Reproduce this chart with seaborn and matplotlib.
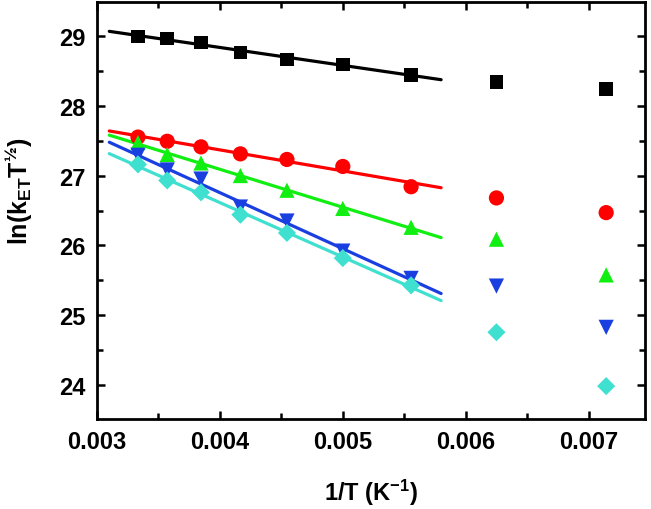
import numpy as np
import pandas as pd
import seaborn as sns
import matplotlib.pyplot as plt
from matplotlib.ticker import MultipleLocator

# ----------------------------
# Data
# ----------------------------
temps = [300, 280, 260, 240, 220, 200, 180, 160, 140]
inv_T = [1.0 / t for t in temps]

series_names = ["s1", "s2", "s3", "s4", "s5"]
y_black = [28.99, 28.96, 28.90, 28.76, 28.66, 28.59, 28.44, 28.34, 28.24]
y_red = [27.55, 27.49, 27.41, 27.31, 27.23, 27.13, 26.84, 26.68, 26.47]
y_green = [27.47, 27.30, 27.18, 27.00, 26.79, 26.53, 26.26, 26.09, 25.58]
y_blue = [27.29, 27.08, 26.95, 26.55, 26.35, 25.92, 25.53, 25.42, 24.83]
y_cyan = [27.16, 26.93, 26.76, 26.44, 26.18, 25.82, 25.43, 24.76, 23.99]

colors = ["#000000", "#ff0000", "#11ee11", "#1a3fe0", "#40e0d0"]
markers = ["s", "o", "^", "v", "D"]
marker_sizes = [95, 120, 120, 120, 85]

# linear fits use the 7 highest temperatures, drawn over this range
n_fit = 7
fit_range = [0.0031, 0.0058]

all_y = [y_black, y_red, y_green, y_blue, y_cyan]
df = pd.DataFrame({
    "invT": inv_T * len(series_names),
    "y": sum(all_y, []),
    "series": np.repeat(series_names, len(temps)),
})

# ----------------------------
# Style
# ----------------------------
sns.set_style("ticks", {"axes.edgecolor": "black", "text.color": "black",
                        "xtick.color": "black", "ytick.color": "black",
                        "axes.labelcolor": "black"})
plt.rcParams["font.family"] = ["Liberation Sans", "DejaVu Sans"]
plt.rcParams["font.weight"] = "bold"
plt.rcParams["mathtext.fontset"] = "custom"
plt.rcParams["mathtext.rm"] = "Liberation Sans:bold"
plt.rcParams["mathtext.bf"] = "Liberation Sans:bold"
plt.rcParams["mathtext.default"] = "rm"

fig = plt.figure(figsize=(6.51, 5.10), dpi=100)
ax = fig.add_axes([0.149, 0.1765, 0.842, 0.8175])

# fitted lines
for name, color in zip(series_names, colors):
    sub = df[df["series"] == name]
    k, b = np.polyfit(sub["invT"].values[:n_fit], sub["y"].values[:n_fit], 1)
    xs = np.array(fit_range)
    sns.lineplot(x=xs, y=k * xs + b, color=color, linewidth=2.3, ax=ax,
                 legend=False)

# markers
for name, color, m, s in zip(series_names, colors, markers, marker_sizes):
    sub = df[df["series"] == name]
    sns.scatterplot(data=sub, x="invT", y="y", color=color, marker=m, s=s,
                    edgecolor="none", ax=ax, legend=False, zorder=3)

ax.set_xlim(0.003, 0.00746)
ax.set_ylim(23.52, 29.48)
ax.xaxis.set_minor_locator(MultipleLocator(0.0005))
ax.yaxis.set_major_locator(MultipleLocator(1))
ax.yaxis.set_minor_locator(MultipleLocator(0.5))
ax.set_xticks([0.003, 0.004, 0.005, 0.006, 0.007])
ax.set_xticklabels(["0.003", "0.004", "0.005", "0.006", "0.007"])

ax.tick_params(which="both", direction="in", top=True, right=True,
               width=1.8, labelsize=17, pad=8, colors="black")
ax.tick_params(which="major", length=6)
ax.tick_params(which="minor", length=4)
for lab in ax.get_xticklabels() + ax.get_yticklabels():
    lab.set_fontweight("bold")
for sp in ax.spines.values():
    sp.set_linewidth(2)
    sp.set_color("black")

ax.set_xlabel(r"1/T (K$^{-1}$)", fontsize=17, fontweight="bold")
ax.set_ylabel(r"ln(k$_{ET}$T$^{½}$)", fontsize=18, fontweight="bold")
ax.xaxis.set_label_coords(0.5, -0.139)
ax.yaxis.set_label_coords(-0.113, 0.549)

fig.savefig("out.png", dpi=100)
